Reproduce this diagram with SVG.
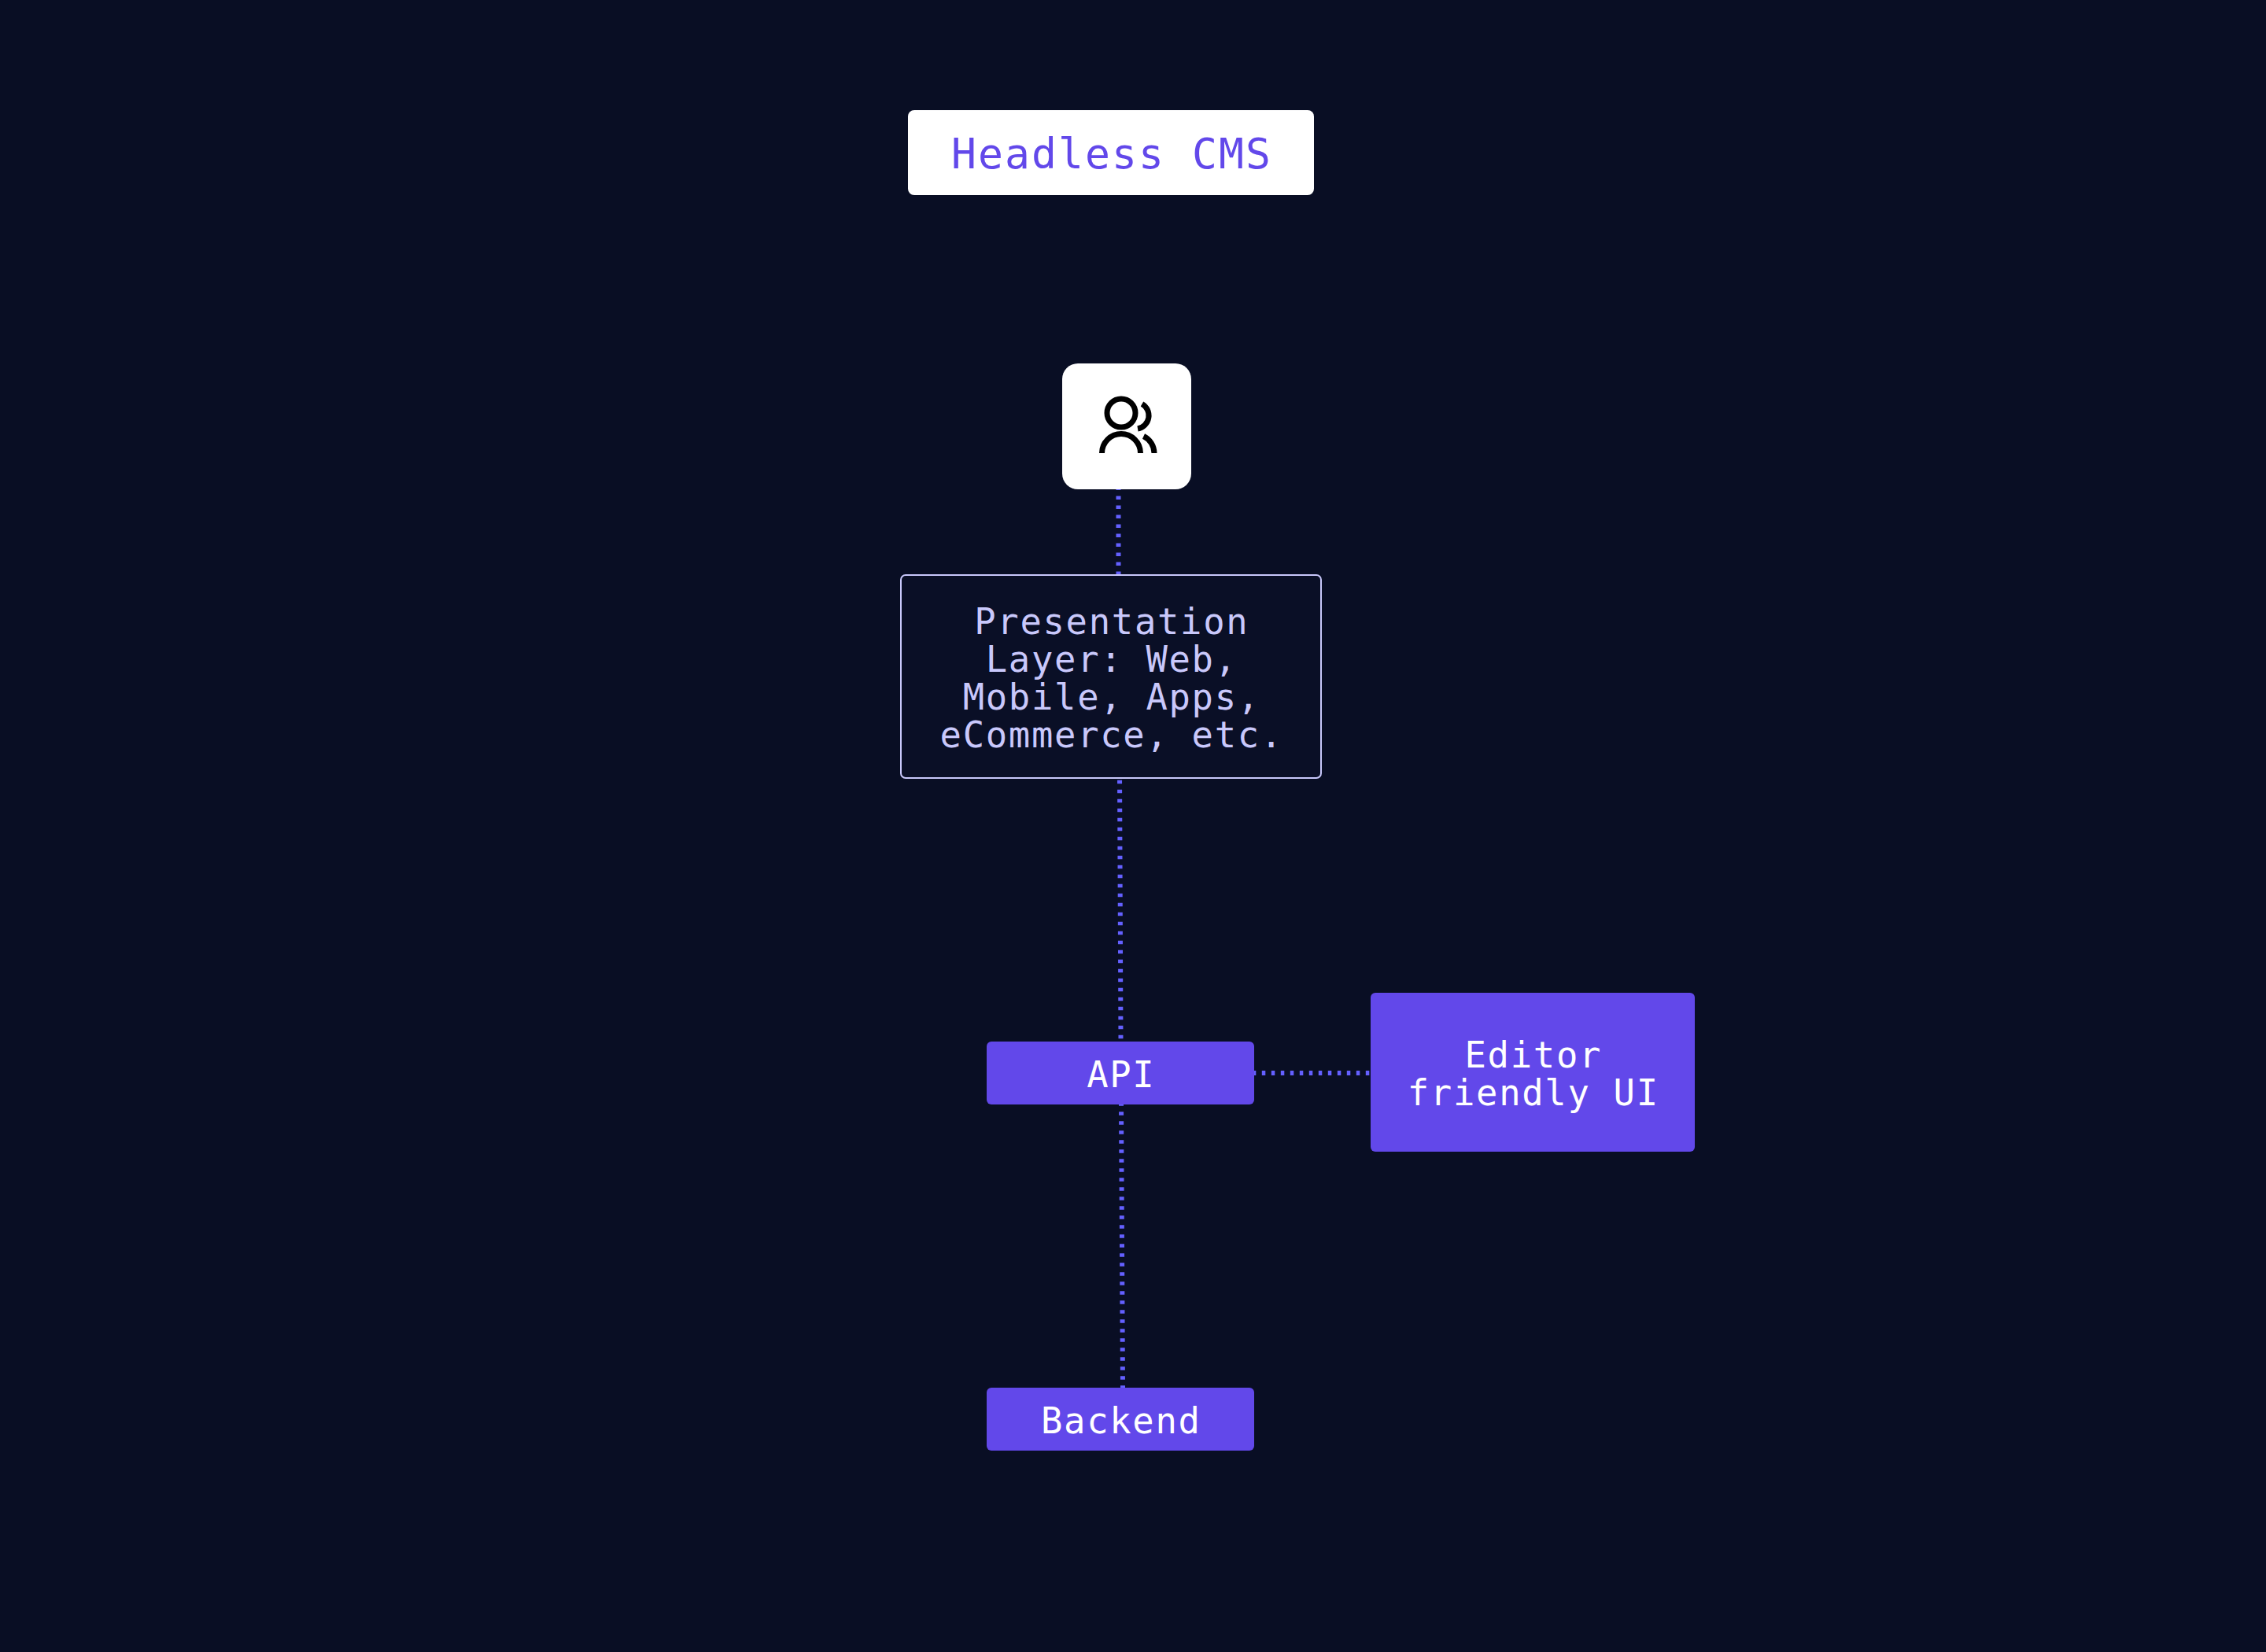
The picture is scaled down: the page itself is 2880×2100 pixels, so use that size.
<svg xmlns="http://www.w3.org/2000/svg" width="2880" height="2100" viewBox="0 0 2880 2100">
<style>
.t{font-family:"DejaVu Sans Mono","Liberation Mono",monospace;font-size:45.500px;text-anchor:middle;fill:#fff;letter-spacing:1.700px}
.h{font-size:53px;letter-spacing:2.100px;fill:#6248ea}
.l{fill:#c9c8fb}
.c{fill:none;stroke:#6460ff;stroke-width:6;stroke-dasharray:4.500 7.500}
.p{fill:#6248ea}
.i{fill:none;stroke:#000;stroke-width:7}
</style>
<rect width="2880" height="2100" fill="#090e24"/>
<g id="connectors">
<path class="c" d="M1421.500 618.500V731"/>
<path class="c" d="M1423 979.700L1424.500 1324"/>
<path class="c" d="M1425 1401.300L1427 1764"/>
<path class="c" d="M1591.800 1364H1742"/>
</g>
<g id="title"><rect x="1154" y="140" width="516" height="108" rx="8" fill="#fff"/><text class="t h" x="1413" y="214">Headless CMS</text></g>
<g id="users"><rect x="1350" y="462" width="164" height="160" rx="20" fill="#fff"/>
<circle class="i" cx="1425" cy="525" r="18"/>
<path class="i" d="M1400.500 576a24.500 24.500 0 0 1 49 0"/>
<path class="i" d="M1451.500 513.500a17 17 0 0 1 -5.500 31.500"/>
<path class="i" d="M1453.500 554.500a24 24 0 0 1 13.500 21.500"/>
</g>
<g id="presentation"><rect x="1145" y="731" width="534" height="258" rx="6" fill="#0a0f26" stroke="#c9c8fb" stroke-width="2"/>
<text class="t l"><tspan x="1412.800" y="806">Presentation</tspan><tspan x="1412.800" y="854">Layer: Web,</tspan><tspan x="1412.800" y="902">Mobile, Apps,</tspan><tspan x="1412.800" y="950">eCommerce, etc.</tspan></text></g>
<g id="api"><rect class="p" x="1254" y="1324" width="340" height="80" rx="6"/><text class="t" x="1424.800" y="1382">API</text></g>
<g id="editor"><rect class="p" x="1742" y="1262" width="412" height="202" rx="6"/><text class="t"><tspan x="1948.800" y="1357">Editor</tspan><tspan x="1948.800" y="1405">friendly UI</tspan></text></g>
<g id="backend"><rect class="p" x="1254" y="1764" width="340" height="80" rx="6"/><text class="t" x="1424.800" y="1822">Backend</text></g>
</svg>
